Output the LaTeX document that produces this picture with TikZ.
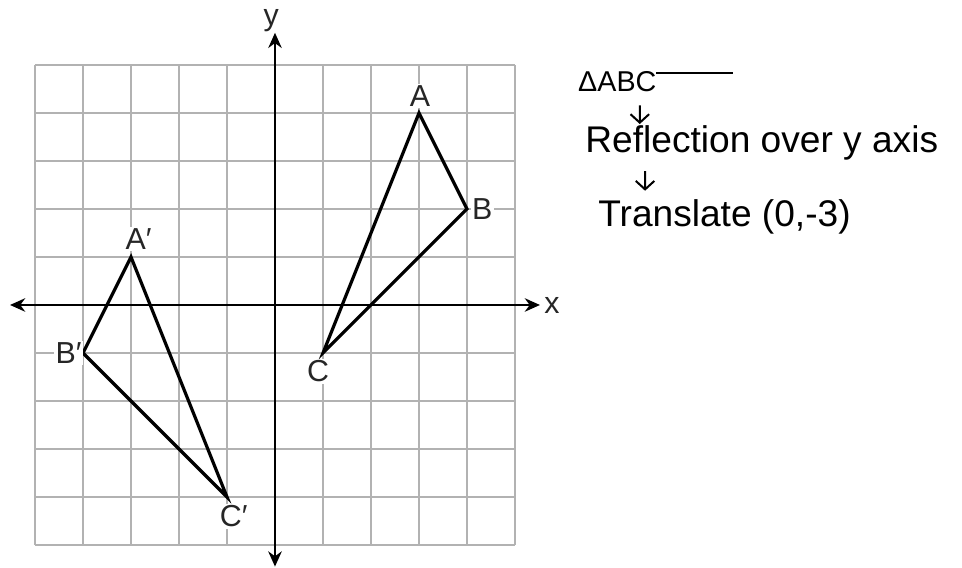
\documentclass[tikz,border=0pt]{standalone}
\usepackage{fontspec}
\setmainfont{Liberation Sans}
\usepackage{tikz}
\usetikzlibrary{arrows.meta,positioning}

\begin{document}
\begin{tikzpicture}[
  x=1cm, y=1cm,
  % ---- lines -------------------------------------------------------------
  gridline/.style={draw=black!30, line width=0.8pt},
  axis/.style={draw=black, line width=1.3pt, {Stealth[length=9pt,width=8pt]}-{Stealth[length=9pt,width=8pt]}},
  tri/.style={draw=black, line width=1.9pt, line join=miter},
  % ---- labels ------------------------------------------------------------
  vlabel/.style={fill=white, inner sep=1pt, font=\fontsize{18}{21}\selectfont, text=black!85},
  axlabel/.style={inner sep=1pt, font=\fontsize{18}{21}\selectfont, text=black!85},
  note/.style={anchor=base west, inner sep=0pt, font=\fontsize{22}{26}\selectfont},
  steparrow/.style={draw=black, line width=1.2pt, -{Straight Barb[length=5pt,width=11pt]}},
]

% ---- frame ------------------------------------------------------------------
\useasboundingbox (-5.729,-5.479) rectangle (14.3125,6.354);

% ---- grid -------------------------------------------------------------------
\foreach \k in {-5,...,5}
  { \draw[gridline] (\k,-5) -- (\k,5);
    \draw[gridline] (-5,\k) -- (5,\k); }

% ---- axes -------------------------------------------------------------------
\draw[axis] (-5.52,0) -- (5.52,0);
\draw[axis] (0,-5.45) -- (0,5.67);
\node[axlabel] (xlab) at (5.77,0) {x};
\node[axlabel] (ylab) at (-0.08,5.92) {y};

% ---- triangle ABC -----------------------------------------------------------
\coordinate (A) at (3,4);
\coordinate (B) at (4,2);
\coordinate (C) at (1,-1);
\draw[tri] (A) -- (B) -- (C) -- cycle;
\node[vlabel] (Alab) at (3.02,4.35) {A};
\node[vlabel] (Blab) at (4.32,2.00) {B};
\node[vlabel] (Clab) at (0.90,-1.38) {C};

% ---- image A'B'C' -----------------------------------------------------------
\coordinate (A1) at (-3,1);
\coordinate (B1) at (-4,-1);
\coordinate (C1) at (-1,-4);
\draw[tri] (A1) -- (B1) -- (C1) -- cycle;
\node[vlabel] (A1lab) at (-2.84,1.37) {A′};
\node[vlabel] (B1lab) at (-4.30,-1.00) {B′};
\node[vlabel] (C1lab) at (-0.86,-4.40) {C′};

% ---- notes ------------------------------------------------------------------
\node[note, font=\fontsize{17}{20}\selectfont] (abc) at (6.31,4.44)
  {ΔABC\rule[0.62em]{1.6cm}{1pt}};
\node[note] (refl)  at (6.46,3.17) {Reflection over y axis};
\node[note] (trans) at (6.73,1.63) {Translate (0,-3)};

\draw[steparrow] ([shift={(1.29,-0.28)}]abc.base west)
  -- ([shift={(1.14,0.60)}]refl.base west);
\draw[steparrow] ([shift={(1.25,-0.38)}]refl.base west)
  -- ([shift={(0.98,0.75)}]trans.base west);

\end{tikzpicture}
\end{document}
